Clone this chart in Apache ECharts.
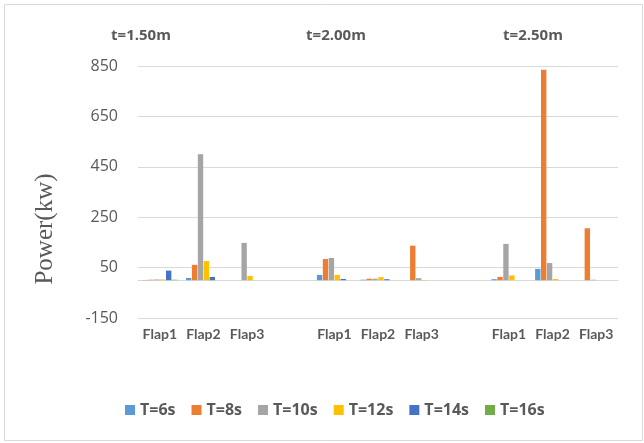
<!DOCTYPE html>
<html>
<head>
<meta charset="utf-8">
<script src="https://cdn.jsdelivr.net/npm/echarts@6/dist/echarts.min.js"></script>
<style>html,body{margin:0;padding:0;background:#fff}#c{width:644px;height:443px}</style>
</head>
<body>
<div id="c"></div>
<script>
var categories = ['Flap1','Flap2','Flap3','','Flap1','Flap2','Flap3','','Flap1','Flap2','Flap3'];
var groupLabels = ['t=1.50m','t=2.00m','t=2.50m'];
var seriesNames = ['T=6s','T=8s','T=10s','T=12s','T=14s','T=16s'];
var T6s  = [1, 9, 0, null, 21, 2, 0, null, 4, 45, 0];
var T8s  = [2, 61, 0, null, 84, 6, 137, null, 13, 835, 206];
var T10s = [3, 500, 148, null, 88, 6, 8, null, 144, 68, 2];
var T12s = [3, 76, 17, null, 21, 12, 1, null, 19, 5, 0];
var T14s = [38, 13, 0, null, 5, 4, 0, null, 0, 0, 0];
var T16s = [2, 0, 0, null, 0, 0, 0, null, 0, 0, 0];
var yTickLabels = [-150, 50, 250, 450, 650, 850];
var yName = 'Power(kw)';

var seriesData = [T6s, T8s, T10s, T12s, T14s, T16s];
var colors = ['#5B9BD5','#ED7D31','#A5A5A5','#FFC000','#4472C4','#70AD47'];
var txt = '#595959';
var font = 'Lato, "Liberation Sans", sans-serif';
var wfont = '"Open Sans", "Liberation Sans", sans-serif';

var chart = echarts.init(document.getElementById('c'));
var groupX = [141, 336, 533];
var option = {
  animation: false,
  color: colors,
  grid: { left: 138, right: 26, top: 66, bottom: 125 },
  legend: {
    data: seriesNames,
    left: 120, top: 397,
    icon: 'rect', itemWidth: 10, itemHeight: 10, itemGap: 16,
    textStyle: { color: txt, fontSize: 16, fontWeight: 'bold', fontFamily: wfont }
  },
  xAxis: {
    type: 'category',
    data: categories,
    axisTick: { show: false },
    axisLine: { lineStyle: { color: '#d9d9d9', width: 1 } },
    axisLabel: { interval: 0, color: txt, fontSize: 14, fontWeight: 'bold', fontFamily: font, margin: 9 }
  },
  yAxis: {
    type: 'value',
    min: -150, max: 850, interval: 50,
    axisLine: { show: false },
    axisTick: { show: false },
    axisLabel: {
      color: txt, fontSize: 16, fontFamily: wfont, margin: 20,
      formatter: function (v) { return yTickLabels.indexOf(v) >= 0 ? String(v) : ''; }
    },
    splitLine: { show: true, lineStyle: { color: ['#d9d9d9','rgba(0,0,0,0)','rgba(0,0,0,0)','rgba(0,0,0,0)'], width: 1 } }
  },
  graphic: [
    { type: 'rect', shape: { x: 4.5, y: 4.5, width: 638, height: 436 }, style: { fill: 'none', stroke: '#d9d9d9', lineWidth: 1 }, silent: true },
    { type: 'text', x: 45, y: 229, rotation: Math.PI / 2,
      style: { text: yName, fill: txt, font: '25px "Liberation Serif", serif', align: 'center', verticalAlign: 'middle' } }
  ].concat(groupLabels.map(function (g, i) {
    return { type: 'text', x: groupX[i], y: 36,
      style: { text: g, fill: txt, font: 'bold 15px ' + wfont, align: 'center', verticalAlign: 'middle' } };
  })),
  series: seriesNames.map(function (n, i) {
    return { name: n, type: 'bar', data: seriesData[i], barGap: '10%', barCategoryGap: '20%' };
  })
};
chart.setOption(option);
</script>
</body>
</html>
